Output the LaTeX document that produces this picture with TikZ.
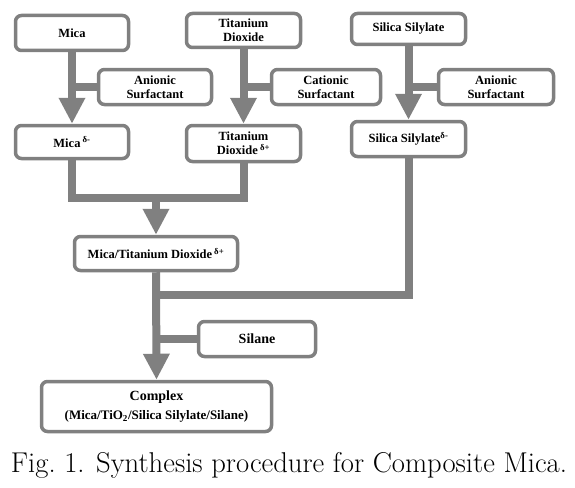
\documentclass[tikz,border=0pt]{standalone}
\usepackage{fontspec}
\newfontfamily\bxfont{Liberation Serif}[BoldFont={Liberation Serif Bold}]
\usetikzlibrary{arrows.meta}
\definecolor{lg}{HTML}{808080}
\begin{document}
\begin{tikzpicture}[x=1pt,y=-1pt,
  box/.style={draw=lg, line width=3.5pt, rounded corners=6pt, fill=white,
    inner sep=0pt, align=center, text=black,
    font=\bxfont\bfseries\fontsize{12.5}{14}\selectfont},
  ln/.style={draw=lg, line width=8pt},
  arr/.style={ln, -{Triangle[width=25pt,length=26pt]}}]
\fill[white] (0,0) rectangle (575,487);
\useasboundingbox (0,0) rectangle (575,487);

% top row
\node[box, minimum width=113pt, minimum height=35pt] (mica) at (72,33) {Mica};
\node[box, minimum width=114pt, minimum height=34pt] (tio) at (243.5,30.5) {Titanium\\Dioxide};
\node[box, minimum width=114pt, minimum height=31pt] (sil) at (408.5,29) {Silica Silylate};
% surfactants
\node[box, minimum width=113pt, minimum height=35pt] (an1) at (155,87) {Anionic\\Surfactant};
\node[box, minimum width=109pt, minimum height=35pt] (cat) at (326,87) {Cationic\\Surfactant};
\node[box, minimum width=115pt, minimum height=35pt] (an2) at (496,87) {Anionic\\Surfactant};
% charged
\node[box, minimum width=113pt, minimum height=33pt] (micad) at (72,142) {Mica\,\textsuperscript{δ-}};
\node[box, minimum width=114pt, minimum height=36pt] (tiod) at (243.5,143.5) {Titanium\\Dioxide\,\textsuperscript{δ+}};
\node[box, minimum width=114pt, minimum height=35pt] (sild) at (408.5,139) {Silica Silylate\textsuperscript{δ-}};
% middle
\node[box, minimum width=163pt, minimum height=34pt] (mt) at (156,253.5) {Mica/Titanium Dioxide\,\textsuperscript{δ+}};
\node[box, minimum width=117pt, minimum height=35pt, font=\bxfont\bfseries\fontsize{14}{16}\selectfont] (silane) at (257,339) {Silane};
\node[box, minimum width=230pt, minimum height=50pt, font=\bxfont\bfseries\fontsize{14}{16}\selectfont] (cx) at (156.5,406.5)
  {Complex\\[3pt]{\fontsize{13}{15}\selectfont (Mica/TiO\textsubscript{2}/Silica Silylate/Silane)}};

% caption
\node[inner sep=0pt, anchor=base] (cap) at (289,472)
  {\resizebox{556pt}{!}{\fontsize{26}{30}\selectfont Fig.\ 1. Synthesis procedure for Composite Mica.}};

% junctions
\coordinate (j1) at (156,198);
\coordinate (j2) at (156,295);

% connectors
\draw[arr] (mica.south) -- (micad.north);
\draw[ln] (an1.west) -- (an1.west -| mica.south);
\draw[arr] (tio.south) -- (tiod.north);
\draw[ln] (cat.west) -- (cat.west -| tio.south);
\draw[arr] (sil.south) -- (sild.north);
\draw[ln] (an2.west) -- (an2.west -| sil.south);

\draw[ln, line join=miter] (micad.south) |- (j1) -| (tiod.south);
\draw[arr] (j1) -- (mt.north);
\draw[ln, line join=miter] (sild.south) |- (j2);
\draw[arr] (mt.south) -- (cx.north);
\draw[ln] (silane.west) -- (silane.west -| mt.south);
\end{tikzpicture}
\end{document}
